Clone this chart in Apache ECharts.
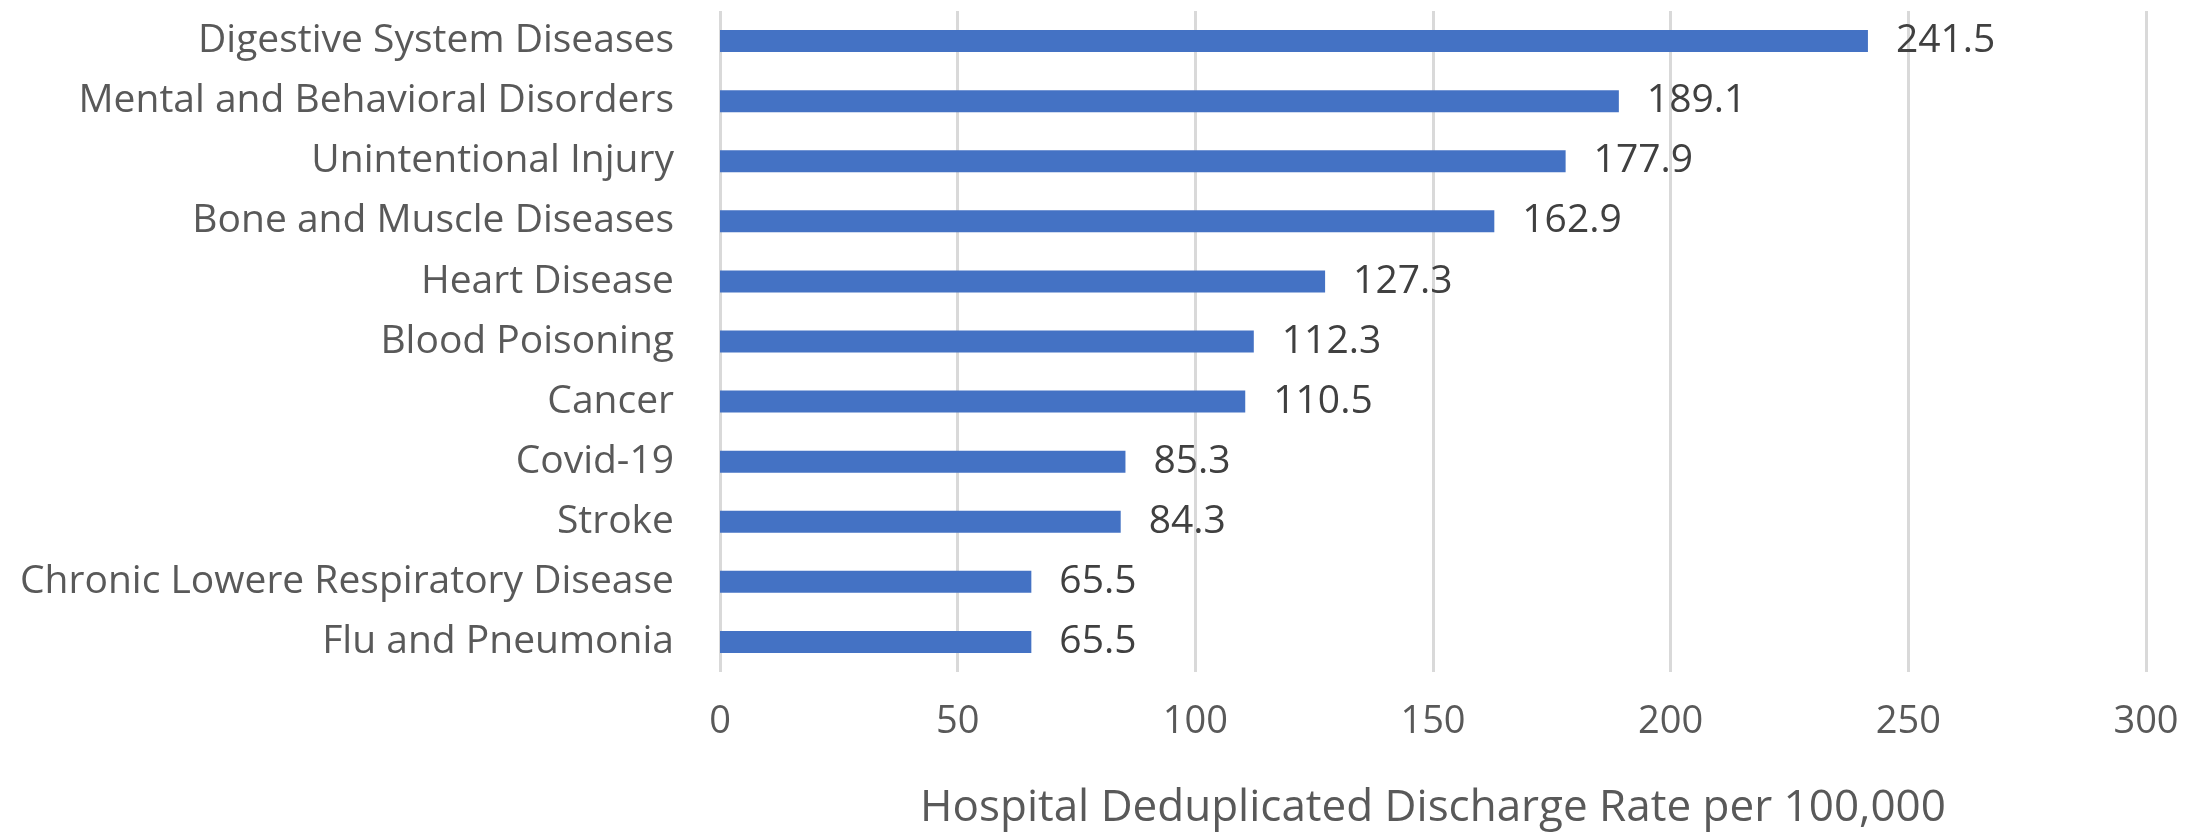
<!DOCTYPE html>
<html>
<head>
<meta charset="utf-8">
<script src="https://cdn.jsdelivr.net/npm/echarts@6/dist/echarts.min.js"></script>
<style>
  html, body { margin: 0; padding: 0; background: #fff; }
  #chart { width: 2211px; height: 835px; }
</style>
</head>
<body>
<div id="chart"></div>
<script>
// 数据
const categories = [
  'Digestive System Diseases',
  'Mental and Behavioral Disorders',
  'Unintentional Injury',
  'Bone and Muscle Diseases',
  'Heart Disease',
  'Blood Poisoning',
  'Cancer',
  'Covid-19',
  'Stroke',
  'Chronic Lowere Respiratory Disease',
  'Flu and Pneumonia'
]
const rates = [241.5, 189.1, 177.9, 162.9, 127.3, 112.3, 110.5, 85.3, 84.3, 65.5, 65.5]
const axisTitle = 'Hospital Deduplicated Discharge Rate per 100,000'

const FONT = '"Open Sans", sans-serif'

let myEcharts = echarts.init(document.getElementById('chart'))
myEcharts.setOption({
  animation: false,
  grid: {
    top: 11,
    right: 65,
    bottom: 150,
    left: 720,
    containLabel: false
  },
  xAxis: {
    type: 'value',
    min: 0,
    max: 300,
    interval: 50,
    name: axisTitle,
    nameLocation: 'middle',
    nameGap: 114,
    nameTextStyle: {
      fontFamily: FONT,
      fontSize: 44,
      color: '#595959'
    },
    axisLine: { show: false },
    axisTick: { show: false },
    axisLabel: {
      margin: 31,
      fontFamily: FONT,
      fontSize: 38,
      color: '#595959'
    },
    splitLine: {
      lineStyle: { color: '#d9d9d9', width: 3 }
    }
  },
  yAxis: {
    type: 'category',
    inverse: true,
    data: categories,
    axisLine: { show: false },
    axisTick: { show: false },
    axisLabel: {
      margin: 46,
      fontFamily: FONT,
      fontSize: 39,
      color: '#595959'
    }
  },
  series: [{
    type: 'bar',
    data: rates,
    barWidth: 22,
    itemStyle: { color: '#4472C4' },
    label: {
      show: true,
      position: 'right',
      distance: 28,
      fontFamily: FONT,
      fontSize: 39,
      color: '#404040'
    }
  }]
})
</script>
</body>
</html>
